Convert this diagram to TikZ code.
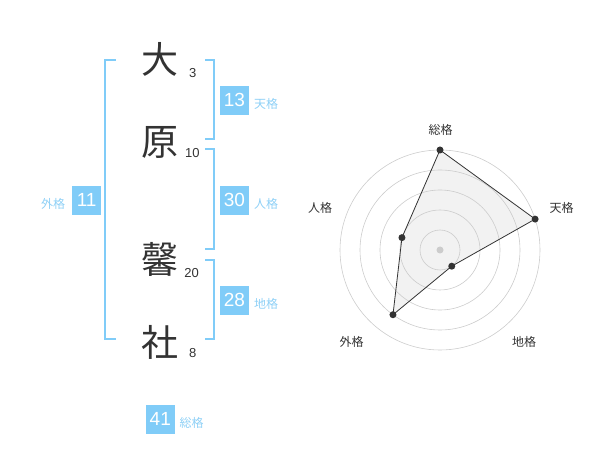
\documentclass[tikz,border=0pt]{standalone}
\usepackage{fontspec}
\setmainfont{Liberation Sans}
\newfontfamily\cjk{Noto Sans CJK JP}
\usetikzlibrary{calc}
\definecolor{kblue}{HTML}{80CCF8}
\definecolor{klabel}{HTML}{8ED0F6}
\definecolor{kdark}{HTML}{333333}
\definecolor{kgrid}{HTML}{CCCCCC}
\definecolor{kfill}{HTML}{F2F2F2}
\tikzset{
  bigchar/.style={inner sep=0pt, anchor=base, font=\cjk\fontsize{37}{37}\selectfont, text=kdark},
  strokes/.style={inner sep=0pt, anchor=base, font=\fontsize{13}{13}\selectfont, text=kdark},
  numbox/.style={fill=kblue, minimum width=29pt, minimum height=29pt, inner sep=0pt, text=white, font=\fontsize{19}{19}\selectfont},
  kaku/.style={inner sep=0pt, anchor=base west, font=\cjk\fontsize{12}{12}\selectfont, text=klabel},
  bracket/.style={draw=kblue, line width=2pt},
  radarlbl/.style={inner sep=0pt, font=\cjk\fontsize{12}{12}\selectfont, text=kdark},
  gridc/.style={draw=kgrid, line width=0.6pt},
  dot/.style={circle, fill=kdark, inner sep=0pt, minimum size=7pt},
}
\begin{document}
\begin{tikzpicture}[x=1pt, y=-1pt]
\useasboundingbox (0,0) rectangle (600,470);
% characters
\node[bigchar] (c1) at (160,74) {大};
\node[bigchar] (c2) at (160,156) {原};
\node[bigchar] (c3) at (160,274) {馨};
\node[bigchar] (c4) at (160,356) {社};
\node[strokes] (s1) at (192.7,77.4) {3};
\node[strokes] (s2) at (192.3,157.4) {10};
\node[strokes] (s3) at (191.7,277.4) {20};
\node[strokes] (s4) at (192.7,358) {8};
% brackets
\draw[bracket] (205,60) -- (214.3,60) -- (214.3,139.3) -- (205,139.3);
\draw[bracket] (205,149.3) -- (214.3,149.3) -- (214.3,249.3) -- (205,249.3);
\draw[bracket] (205,260) -- (214.3,260) -- (214.3,339.3) -- (205,339.3);
\draw[bracket] (115.7,60) -- (105,60) -- (105,339.3) -- (115.7,339.3);
% boxes
\node[numbox] (ten) at (234.5,100.3) {13};
\node[kaku] (tenl) at (254,108.6) {天格};
\node[numbox] (jin) at (234.5,200.3) {30};
\node[kaku] (jinl) at (254,208.3) {人格};
\node[numbox] (chi) at (234.5,300.3) {28};
\node[kaku] (chil) at (254,308.3) {地格};
\node[numbox] (gai) at (86.7,200.3) {11};
\node[kaku] (gail) at (41,208.6) {外格};
\node[numbox] (sou) at (160.3,419.2) {41};
\node[kaku] (soul) at (179.5,427.3) {総格};
% radar
\coordinate (C) at (440,250);
\coordinate (p1) at ($(C)+(90:100pt)$);
\coordinate (p2) at ($(C)+(18:100pt)$);
\coordinate (p3) at ($(C)+(-54:20pt)$);
\coordinate (p4) at ($(C)+(-126:80pt)$);
\coordinate (p5) at ($(C)+(162:40pt)$);
\fill[kfill] (p1) -- (p2) -- (p3) -- (p4) -- (p5) -- cycle;
\foreach \r in {20,40,60,80,100} \draw[gridc] (C) circle[radius=\r pt];
\draw[kdark, line width=0.8pt] (p1) -- (p2) -- (p3) -- (p4) -- (p5) -- cycle;
\fill[kgrid] (C) circle[radius=3.5pt];
\foreach \p in {p1,p2,p3,p4,p5} \node[dot] at (\p) {};
\node[radarlbl] (l1) at (440.7,130) {総格};
\node[radarlbl] (l2) at (561.7,208.3) {天格};
\node[radarlbl] (l3) at (524,341.7) {地格};
\node[radarlbl] (l4) at (351.7,341.7) {外格};
\node[radarlbl] (l5) at (320,208.3) {人格};
\end{tikzpicture}
\end{document}
